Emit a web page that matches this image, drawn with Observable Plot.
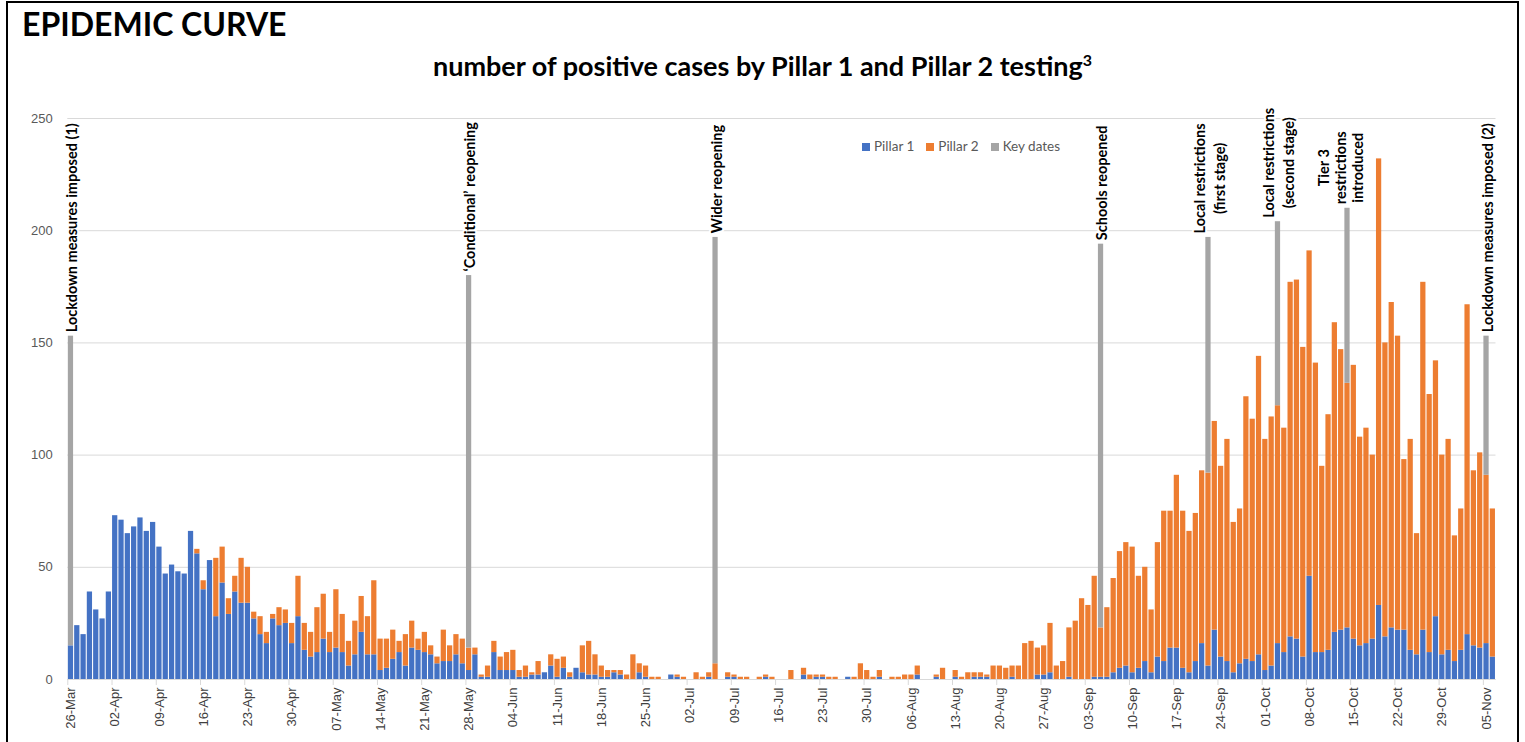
<!DOCTYPE html>
<html>
<head>
<meta charset="utf-8">
<script src="https://cdn.jsdelivr.net/npm/d3@7"></script>
<script src="https://cdn.jsdelivr.net/npm/@observablehq/plot@0.6"></script>
<style>
  html, body { margin: 0; padding: 0; background: #fff; }
  #wrap { position: relative; width: 1525px; height: 742px; overflow: hidden; background: #fff; }
  #frame { position: absolute; left: 6px; top: 1px; width: 1509px; height: 800px; border: 2px solid #000; }
  #title { position: absolute; left: 22px; top: 4px; font-family: Lato, "Open Sans", sans-serif; font-weight: 700; font-size: 32px; color: #000; letter-spacing: 0px; }
  #subtitle { position: absolute; left: 0; width: 1525px; top: 49px; text-align: center; font-family: Lato, "Open Sans", sans-serif; font-weight: 700; font-size: 27px; color: #000; }
  #subtitle sup { font-size: 16px; }
  #chart { position: absolute; left: 0; top: 100px; }
  #legend { position: absolute; left: 862px; top: 138px; font-family: Lato, "Open Sans", sans-serif; font-size: 13.5px; color: #595959; display: flex; gap: 12px; }
  #legend span.sw { display: inline-block; width: 8px; height: 8px; margin-right: 4px; vertical-align: 0px; }
</style>
</head>
<body>
<div id="wrap">
  <div id="frame"></div>
  <div id="title">EPIDEMIC CURVE</div>
  <div id="subtitle">number of positive cases by Pillar 1 and Pillar 2 testing<sup>3</sup></div>
  <div id="chart"></div>
  <div id="legend"></div>
</div>
<script>
// ---- data ----
const startDate = "2020-03-26";
const pillar1 = [
  15,24,20,39,31,27,39,73,71,65,68,72,66,70,59,47,51,48,47,66,
  56,40,53,28,43,29,39,34,34,27,20,16,27,24,25,16,28,13,10,12,
  18,12,14,12,6,11,21,11,11,4,5,9,12,6,14,13,12,11,7,8,
  8,11,7,4,11,1,1,12,4,4,4,1,1,2,2,3,6,1,5,1,
  5,3,2,2,1,1,3,2,0,0,3,1,0,0,0,2,1,0,0,0,
  0,1,0,0,1,1,0,0,0,0,1,0,0,0,0,0,2,0,1,1,
  0,0,0,1,0,0,0,0,1,0,0,0,0,0,2,0,0,1,0,0,
  1,0,0,1,1,1,0,0,0,1,0,0,0,2,2,3,0,0,1,0,
  0,0,1,1,1,3,5,6,3,5,8,3,10,8,14,14,5,3,8,16,
  6,22,10,8,3,7,9,8,11,4,6,16,12,19,18,10,46,12,12,13,
  21,22,23,18,15,16,18,33,19,23,22,22,13,11,22,12,28,11,13,8,
  13,20,15,14,16,10
];
const pillar2 = [
  0,0,0,0,0,0,0,0,0,0,0,0,0,0,0,0,0,0,0,0,
  2,4,0,26,16,7,7,20,16,3,8,5,2,8,6,9,18,12,11,20,
  20,9,26,17,11,15,16,17,33,14,13,13,5,14,12,5,9,4,3,14,
  7,9,11,10,3,1,5,5,6,8,9,3,5,1,6,0,5,8,5,2,
  0,12,15,9,5,3,1,2,2,11,4,5,1,1,0,0,1,1,0,3,
  1,2,7,0,2,1,1,1,0,1,1,1,0,0,4,0,3,2,1,1,
  1,1,0,0,1,7,4,1,3,0,1,1,2,2,4,0,0,1,5,0,
  3,1,3,2,2,1,6,6,5,5,6,16,17,12,13,22,6,8,22,26,
  36,33,45,22,31,42,52,55,56,41,42,28,51,67,61,77,70,63,66,77,
  86,93,85,99,67,69,117,108,133,103,111,106,100,158,160,138,145,129,83,105,
  138,125,109,122,93,96,82,199,131,145,131,76,94,54,155,115,114,89,94,56,
  63,147,78,87,75,66
];
const keyDateDays = ["2020-03-26","2020-05-28","2020-07-06","2020-09-05","2020-09-22","2020-10-03","2020-10-14","2020-11-05"];
const keyDateTops = [153, 180, 197, 194, 197, 204, 210, 153];
const keyDateLabels = [
  "Lockdown measures imposed (1)",
  "\u2018Conditional\u2019 reopening",
  "Wider reopening",
  "Schools reopened",
  "Local restrictions\n(first stage)",
  "Local restrictions\n(second stage)",
  "Tier 3\nrestrictions\nintroduced",
  "Lockdown measures imposed (2)"
];
const seriesNames = ["Pillar 1", "Pillar 2", "Key dates"];
const seriesColors = ["#4472C4", "#ED7D31", "#A5A5A5"];
const yTicks = [0, 50, 100, 150, 200, 250];

// ---- build table ----
const start = new Date(startDate + "T00:00:00Z");
const nDays = pillar1.length;
const dates = d3.range(nDays).map(i => d3.utcDay.offset(start, i));
const dayIndex = s => Math.round((new Date(s + "T00:00:00Z") - start) / 864e5);
const rows = [];
for (let i = 0; i < nDays; i++) {
  rows.push({i, series: "Pillar 1", value: pillar1[i]});
  rows.push({i, series: "Pillar 2", value: pillar2[i]});
}
const keys = keyDateDays.map((d, k) => {
  const i = dayIndex(d);
  rows.push({i, series: "Key dates", value: keyDateTops[k] - pillar1[i] - pillar2[i]});
  return {i, top: keyDateTops[k], label: keyDateLabels[k]};
});
const weekTicks = d3.range(0, nDays, 7);
const fmt = d3.utcFormat("%d-%b");

// measure label widths for centring the line blocks above the bars
const labelSize = 14.5;
const ctx = document.createElement("canvas").getContext("2d");
ctx.font = `bold ${labelSize}px Lato`;
const labelMarks = keys.map(k => {
  const nLines = k.label.split("\n").length;
  const w = d3.max(k.label.split("\n"), s => ctx.measureText(s).width);
  return Plot.text([k], {
    x: "i", y: "top", text: "label", rotate: -90,
    textAnchor: "middle", lineAnchor: "middle", lineHeight: nLines > 2 ? 1.2 : 1.35,
    dy: -(w / 2 + 4), dx: nLines > 2 ? -7 : 0,
    fontFamily: "Lato", fontWeight: "bold", fontSize: labelSize,
    fill: "#000", stroke: "#fff", strokeWidth: 4
  });
});

const width = 1525, height = 642;
const chart = Plot.plot({
  width, height,
  marginLeft: 67.3, marginRight: 29.5, marginTop: 18, marginBottom: 63,
  style: {fontFamily: "'Liberation Sans', Arial, sans-serif", fontSize: "13px", background: "transparent", overflow: "visible"},
  x: {type: "band", domain: d3.range(nDays), paddingInner: 0.17, paddingOuter: 0.085, axis: null},
  y: {domain: [0, 250], axis: null},
  color: {domain: seriesNames, range: seriesColors},
  marks: [
    Plot.gridY(yTicks, {stroke: "#d9d9d9", strokeOpacity: 1}),
    Plot.axisY({ticks: yTicks, tickSize: 0, tickPadding: 15, label: null, fill: "#595959"}),
    Plot.barY(rows, {x: "i", y: "value", fill: "series", order: seriesNames}),
    Plot.ruleY([0], {stroke: "#d9d9d9"}),
    Plot.axisX({ticks: weekTicks, tickSize: 6, tickFormat: () => "", stroke: "#d9d9d9", dx: -3.16, label: null}),
    Plot.axisX({ticks: weekTicks, tickSize: 0, tickPadding: 8, tickRotate: -90, tickFormat: i => fmt(dates[i]), fill: "#404040", label: null}),
    ...labelMarks
  ]
});
document.getElementById("chart").appendChild(chart);

// legend
const legend = d3.select("#legend");
seriesNames.forEach((s, k) => {
  const item = legend.append("div");
  item.append("span").attr("class", "sw").style("background", seriesColors[k]);
  item.append("span").text(s);
});
</script>
</body>
</html>
